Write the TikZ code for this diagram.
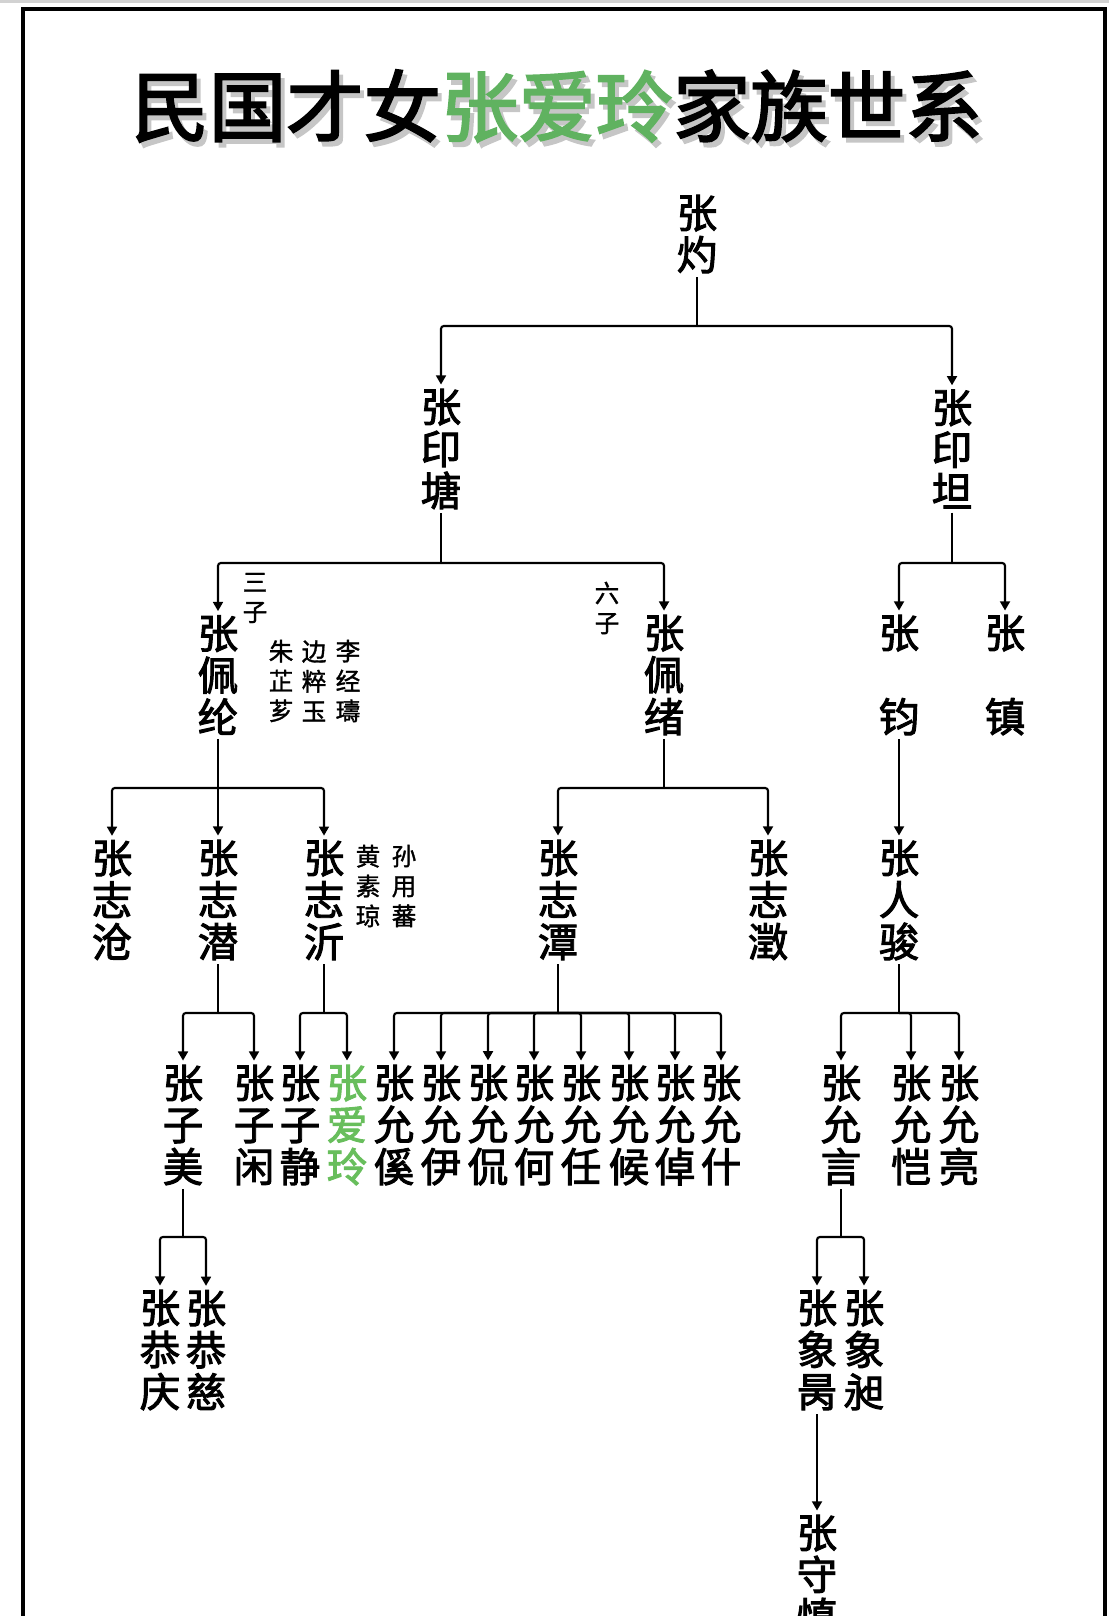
\documentclass[tikz,border=0pt]{standalone}
\usepackage{fontspec}
\setmainfont{Noto Sans CJK SC}
\newfontfamily\titlefont[FakeBold=2.5]{Noto Sans CJK SC}
\newfontfamily\namefont[FakeBold=2.4]{Noto Sans CJK SC}
\newfontfamily\notefont[FakeBold=1.4]{Noto Sans CJK SC}
\usetikzlibrary{arrows.meta}

\definecolor{titlegreen}{RGB}{96,178,96}
\definecolor{namegreen}{RGB}{104,190,92}

\tikzset{
  person/.style={inner sep=1pt, align=center, font=\namefont\fontsize{11.5}{11.95}\selectfont},
  spouse/.style={inner sep=0pt, align=center, font=\notefont\fontsize{7}{8.5}\selectfont},
  link/.style={line width=0.6pt, rounded corners=0.8pt},
  arr/.style={link, -{Triangle[length=2.6pt,width=2.8pt]}},
}

\begin{document}
\begin{tikzpicture}[x=0.01cm, y=-0.01cm]
\useasboundingbox (0,0) rectangle (1109,1616);
\clip (0,0) rectangle (1109,1616);
\fill[gray!35] (0,0) rectangle (1109,3);
\draw[line width=1.4pt] (23,9) rectangle (1105,1700);

% title
\node[text=gray!45, font=\titlefont\fontsize{22}{22}\selectfont] (shadow) at (561,111) {民国才女张爱玲家族世系};
\node[font=\titlefont\fontsize{22}{22}\selectfont] (title) at (557,106) {民国才女\textcolor{titlegreen}{张爱玲}家族世系};

% generations
\node[person] (zhuo) at (697,234) {张\\灼};
\node[person] (yintang) at (441,449) {张\\印\\塘};
\node[person] (yintan) at (952,449) {张\\印\\坦};

\node[person] (peilun) at (218,675) {张\\佩\\纶};
\node[person] (peixu) at (664,675) {张\\佩\\绪};
\node[person] (jun) at (899,675) {张\\\phantom{张}\\钧};
\node[person] (zhen) at (1005,675) {张\\\phantom{张}\\镇};
\node[spouse] (sanzi) at (255,598) {三\\子};
\node[spouse] (liuzi) at (607,608) {六\\子};
\node[spouse] (zhu) at (281,681) {朱\\芷\\芗};
\node[spouse] (bian) at (314,681) {边\\粹\\玉};
\node[spouse] (li) at (348,681) {李\\经\\璹};

\node[person] (zhicang) at (112,900) {张\\志\\沧};
\node[person] (zhiqian) at (218,900) {张\\志\\潜};
\node[person] (zhiyi) at (324,900) {张\\志\\沂};
\node[person] (zhitan) at (558,900) {张\\志\\潭};
\node[person] (zhicheng) at (768,900) {张\\志\\澂};
\node[person] (renjun) at (899,900) {张\\人\\骏};
\node[spouse] (huang) at (368,886) {黄\\素\\琼};
\node[spouse] (sun) at (404,886) {孙\\用\\蕃};

\node[person] (zimei) at (183,1125) {张\\子\\美};
\node[person] (zixian) at (254,1125) {张\\子\\闲};
\node[person] (zijing) at (300,1125) {张\\子\\静};
\node[person, text=namegreen] (ailing) at (347,1125) {张\\爱\\玲};
\node[person] (yunxi) at (394,1125) {张\\允\\傒};
\node[person] (yunyi) at (441,1125) {张\\允\\伊};
\node[person] (yunkan) at (488,1125) {张\\允\\侃};
\node[person] (yunhe) at (534,1125) {张\\允\\何};
\node[person] (yunren) at (581,1125) {张\\允\\任};
\node[person] (yunhou) at (629,1125) {张\\允\\候};
\node[person] (yunzhuo) at (675,1125) {张\\允\\倬};
\node[person] (yunshi) at (721,1125) {张\\允\\什};
\node[person] (yunyan) at (841,1125) {张\\允\\言};
\node[person] (yunkai) at (911,1125) {张\\允\\恺};
\node[person] (yunliang) at (959,1125) {张\\允\\亮};

\node[person] (gongqing) at (160,1350) {张\\恭\\庆};
\node[person] (gongci) at (206,1350) {张\\恭\\慈};
\node[person] (xiangbing) at (817,1350) {张\\象\\昺};
\node[person] (xiangchang) at (864,1350) {张\\象\\昶};
\node[person] (shou) at (817,1575) {张\\守\\慎};

% junctions
\coordinate (j0) at (697,326);
\coordinate (j1) at (441,563);
\coordinate (j2) at (952,563);
\coordinate (j3) at (218,788);
\coordinate (j4) at (664,788);
\coordinate (j5) at (218,1013);
\coordinate (j6) at (324,1013);
\coordinate (j7) at (558,1013);
\coordinate (j8) at (899,1013);
\coordinate (j9) at (183,1237);
\coordinate (j10) at (841,1237);

\draw[link] (zhuo) -- (j0);
\draw[arr] (j0) -| (yintang);
\draw[arr] (j0) -| (yintan);

\draw[link] (yintang) -- (j1);
\draw[arr] (j1) -| (peilun);
\draw[arr] (j1) -| (peixu);
\draw[link] (yintan) -- (j2);
\draw[arr] (j2) -| (jun);
\draw[arr] (j2) -| (zhen);

\draw[link] (peilun) -- (j3);
\draw[arr] (j3) -| (zhicang);
\draw[arr] (j3) -- (zhiqian);
\draw[arr] (j3) -| (zhiyi);
\draw[link] (peixu) -- (j4);
\draw[arr] (j4) -| (zhitan);
\draw[arr] (j4) -| (zhicheng);
\draw[arr] (jun) -- (renjun);

\draw[link] (zhiqian) -- (j5);
\draw[arr] (j5) -| (zimei);
\draw[arr] (j5) -| (zixian);
\draw[link] (zhiyi) -- (j6);
\draw[arr] (j6) -| (zijing);
\draw[arr] (j6) -| (ailing);
\draw[link] (zhitan) -- (j7);
\draw[arr] (j7) -| (yunxi);
\draw[arr] (j7) -| (yunyi);
\draw[arr] (j7) -| (yunkan);
\draw[arr] (j7) -| (yunhe);
\draw[arr] (j7) -| (yunren);
\draw[arr] (j7) -| (yunhou);
\draw[arr] (j7) -| (yunzhuo);
\draw[arr] (j7) -| (yunshi);
\draw[link] (renjun) -- (j8);
\draw[arr] (j8) -| (yunyan);
\draw[arr] (j8) -| (yunkai);
\draw[arr] (j8) -| (yunliang);

\draw[link] (zimei) -- (j9);
\draw[arr] (j9) -| (gongqing);
\draw[arr] (j9) -| (gongci);
\draw[link] (yunyan) -- (j10);
\draw[arr] (j10) -| (xiangbing);
\draw[arr] (j10) -| (xiangchang);
\draw[arr] (xiangbing) -- (shou);
\end{tikzpicture}
\end{document}
